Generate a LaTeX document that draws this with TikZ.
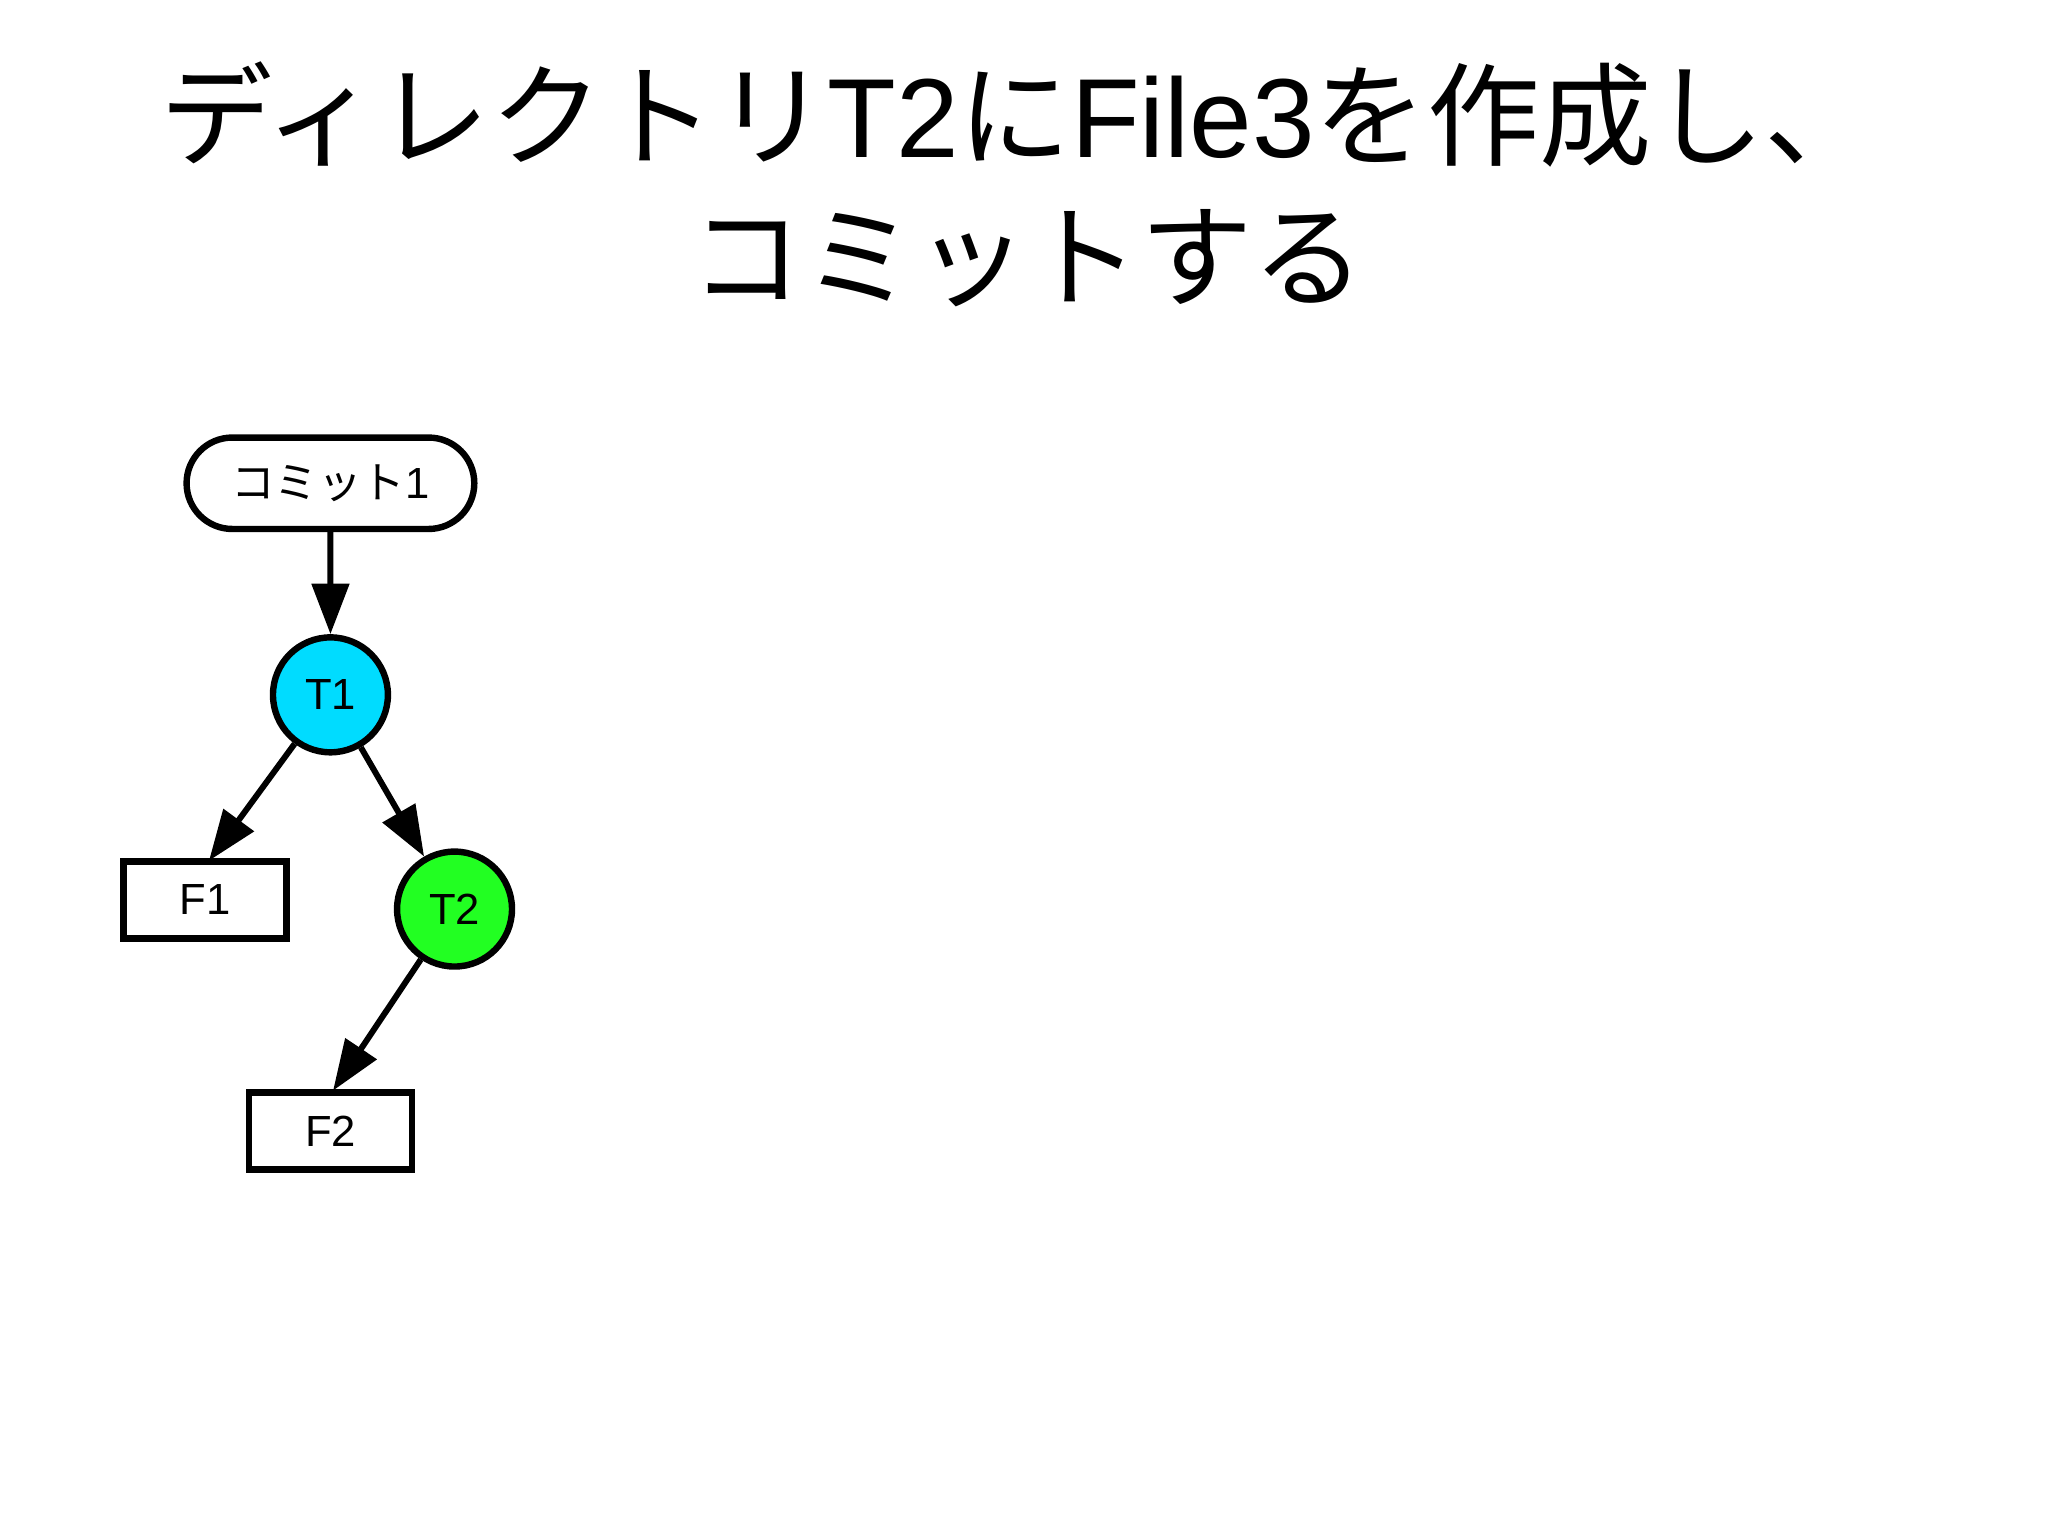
\documentclass[tikz,border=0pt]{standalone}
\usepackage{fontspec}
\setmainfont{Liberation Sans}
\newfontfamily\cjk{Noto Sans CJK JP}
\usetikzlibrary{arrows.meta,shapes.misc}
\begin{document}
\begin{tikzpicture}[x=0.02cm,y=-0.02cm,
  arr/.style={line width=2.6pt,-{Triangle[length=22pt,width=16pt]}},
  circ/.style={circle,draw,line width=2.8pt,minimum size=88*0.02cm,font=\fontsize{19}{22}\selectfont,inner sep=0pt},
  box/.style={rectangle,draw,line width=2.8pt,minimum width=125*0.02cm,minimum height=59*0.02cm,font=\fontsize{19}{22}\selectfont},
  ttl/.style={font=\fontsize{49}{58}\selectfont}]
\useasboundingbox (0,0) rectangle (1568,1175);
\node[ttl] (t1) at (780,88) {{\cjk ディレクトリ}T2{\cjk に}File3{\cjk を作成し、}};
\node[ttl] (t2) at (787,198) {\cjk コミットする};
\node[rounded rectangle,draw,line width=2.8pt,minimum width=232*0.02cm,minimum height=70*0.02cm,font=\fontsize{19}{22}\selectfont] (c1) at (253,370) {{\cjk コミット}1};
\node[circ,fill={rgb,255:red,0;green,220;blue,255}] (T1) at (253,532) {T1};
\node[box] (F1) at (157,689) {F1};
\node[circ,fill={rgb,255:red,34;green,255;blue,34}] (T2) at (348,696) {T2};
\node[box] (F2) at (253,866) {F2};
\coordinate (f1t) at (160,659);
\coordinate (f2t) at (255,835);
\draw[arr] (c1) -- (T1);
\draw[arr] (T1) -- (f1t);
\draw[arr] (T1) -- (T2);
\draw[arr] (T2) -- (f2t);
\end{tikzpicture}
\end{document}
